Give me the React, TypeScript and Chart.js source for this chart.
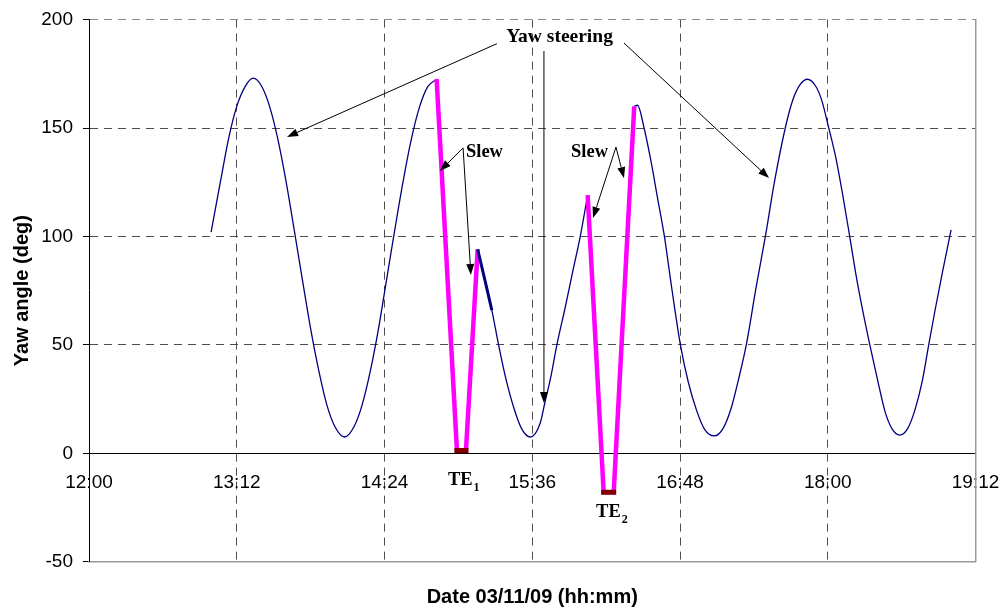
import React, { useEffect, useRef } from "react";
import { Chart, registerables } from "chart.js";

Chart.register(...registerables);

// ---------- data (time in minutes after 00:00, yaw in degrees) ----------
const timeTicks = [720, 792, 864, 936, 1008, 1080, 1152];
const yawTicks = [-50, 0, 50, 100, 150, 200];

// yaw steering before first slew
const steerATime = [779.5, 784, 788, 792, 796, 800, 804, 808, 812, 816, 820, 824, 828, 832, 836, 840, 844.5, 849, 853, 857, 861, 865, 869, 873, 877, 881, 885, 889.4];
const steerAYaw = [102, 125, 145, 160, 169, 173, 169.5, 160, 145, 125.5, 103, 80, 57.5, 38, 22, 12, 7.5, 12, 22, 37.5, 57, 80, 103, 125, 144.5, 159.5, 169, 172.5];

// yaw steering between the two slews
const steerBTime = [909.4, 913, 916.3, 919.6, 923, 927, 931, 935, 939.9, 942.3, 945, 948, 952, 956, 959.4, 963];
const steerBYaw = [94, 80, 66, 50, 35, 21, 11, 7.5, 14, 24, 35, 50, 67, 85, 100, 119];

// overlapping (thicker) part right after first slew
const steerThickTime = [909.4, 912.9, 916.3];
const steerThickYaw = [94, 80, 66];

// yaw steering after second slew
const steerCTime = [985.7, 987.3, 990.5, 994, 997, 1000.4, 1004, 1008.2, 1012, 1016, 1020, 1024.7, 1029, 1033, 1036.5, 1040.3, 1045, 1049.6, 1054, 1059.3, 1063, 1066.5, 1070.2, 1074, 1077, 1080.5, 1084, 1087.5, 1090.7, 1094, 1097, 1100.5, 1104, 1108, 1111.5, 1115.1, 1119, 1122.5, 1126, 1129.2, 1132.5, 1136, 1140.1];
const steerCYaw = [160, 160.5, 150, 134, 118, 100, 76, 50, 33, 20, 11, 8, 11.5, 21, 34, 50, 76, 100, 125, 150, 163, 170, 172.5, 169.5, 163, 150, 136, 118, 100, 81, 66, 50, 35, 19, 11, 8.4, 11.5, 20, 33, 50, 67, 84, 103];

// slews
const slew1Time = [889.4, 899.3, 903.7, 909.4];
const slew1Yaw = [172.5, 1.3, 1.3, 94];
const slew2Time = [963, 970.8, 975.7, 985.7];
const slew2Yaw = [119, -18, -18, 160];

// target events
const te1Time = [899.3, 903.7];
const te1Yaw = [1.3, 1.3];
const te2Time = [970.8, 975.7];
const te2Yaw = [-18, -18];

// annotations (data coordinates)
const steeringLabel = { text: "Yaw steering", t: 949.3, v: 189.7 };
const steeringArrows = [
  [918.8, 188.9, 816.5, 145.9],
  [941.7, 185.5, 941.7, 23.2],
  [980.7, 189.2, 1051.4, 126.9],
];
const slewLabels = [
  { text: "Slew", t: 903.7, v: 136.6 },
  { text: "Slew", t: 954.9, v: 136.6 },
];
const slewArrows = [
  [902.3, 140.8, 891.0, 130.2],
  [902.3, 140.8, 906.1, 82.2],
  [976.8, 141.2, 965.6, 108.5],
  [976.8, 141.2, 980.7, 126.9],
];
const teLabels = [
  { main: "TE", sub: "1", t: 894.9, v: -14.6 },
  { main: "TE", sub: "2", t: 967.1, v: -29.4 },
];

const SANS = '"Liberation Sans", Arial, sans-serif';
const SERIF = '"Liberation Serif", "Times New Roman", serif';

const pts = (ts: number[], vs: number[]) => ts.map((t, i) => ({ x: t, y: vs[i] }));
const fmt = (v: number) => {
  const h = Math.floor(v / 60);
  const m = Math.round(v - h * 60);
  return `${h}:${m < 10 ? "0" + m : m}`;
};

function drawArrow(ctx: CanvasRenderingContext2D, x1: number, y1: number, x2: number, y2: number) {
  const ang = Math.atan2(y2 - y1, x2 - x1);
  const len = 11;
  const hw = 4;
  const bx = x2 - len * Math.cos(ang);
  const by = y2 - len * Math.sin(ang);
  ctx.beginPath();
  ctx.moveTo(x1, y1);
  ctx.lineTo(bx, by);
  ctx.stroke();
  ctx.beginPath();
  ctx.moveTo(x2, y2);
  ctx.lineTo(bx + hw * Math.sin(ang), by - hw * Math.cos(ang));
  ctx.lineTo(bx - hw * Math.sin(ang), by + hw * Math.cos(ang));
  ctx.closePath();
  ctx.fill();
}

const annotationPlugin = {
  id: "annotations",
  afterDatasetsDraw(chart: any) {
    const { ctx, scales } = chart;
    const xs = scales.x;
    const ys = scales.y;
    const px = (t: number) => xs.getPixelForValue(t);
    const py = (v: number) => ys.getPixelForValue(v);
    ctx.save();
    ctx.strokeStyle = "#000";
    ctx.fillStyle = "#000";
    ctx.lineWidth = 1;
    [...steeringArrows, ...slewArrows].forEach((a) => drawArrow(ctx, px(a[0]), py(a[1]), px(a[2]), py(a[3])));
    ctx.textBaseline = "alphabetic";
    ctx.font = `bold 19.5px ${SERIF}`;
    ctx.textAlign = "center";
    ctx.fillText(steeringLabel.text, px(steeringLabel.t), py(steeringLabel.v));
    ctx.textAlign = "left";
    ctx.font = `bold 18.5px ${SERIF}`;
    slewLabels.forEach((l) => ctx.fillText(l.text, px(l.t), py(l.v)));
    teLabels.forEach((l) => {
      ctx.font = `bold 18.5px ${SERIF}`;
      const x0 = px(l.t);
      const y0 = py(l.v);
      ctx.fillText(l.main, x0, y0);
      const w = ctx.measureText(l.main).width;
      ctx.font = `bold 12px ${SERIF}`;
      ctx.fillText(l.sub, x0 + w + 1, y0 + 6);
    });
    ctx.restore();
  },
};

export default function App() {
  const ref = useRef<HTMLCanvasElement>(null);
  useEffect(() => {
    const transparent = "rgba(0,0,0,0)";
    const gridGray = "#4d4d4d";
    const chart = new Chart(ref.current as HTMLCanvasElement, {
      type: "line",
      data: {
        datasets: [
          { data: pts(te1Time, te1Yaw), borderColor: "#800000", borderWidth: 5, borderCapStyle: "square", pointRadius: 0, tension: 0, order: 0 },
          { data: pts(te2Time, te2Yaw), borderColor: "#800000", borderWidth: 5, borderCapStyle: "square", pointRadius: 0, tension: 0, order: 0 },
          { data: pts(steerThickTime, steerThickYaw), borderColor: "#000080", borderWidth: 3, pointRadius: 0, tension: 0, order: 1 },
          { data: pts(slew1Time, slew1Yaw), borderColor: "#FF00FF", borderWidth: 4.5, pointRadius: 0, tension: 0, order: 2 },
          { data: pts(slew2Time, slew2Yaw), borderColor: "#FF00FF", borderWidth: 4.5, pointRadius: 0, tension: 0, order: 2 },
          { data: pts(steerATime, steerAYaw), borderColor: "#000080", borderWidth: 1.3, pointRadius: 0, cubicInterpolationMode: "monotone", order: 3 },
          { data: pts(steerBTime, steerBYaw), borderColor: "#000080", borderWidth: 1.3, pointRadius: 0, cubicInterpolationMode: "monotone", order: 3 },
          { data: pts(steerCTime, steerCYaw), borderColor: "#000080", borderWidth: 1.3, pointRadius: 0, cubicInterpolationMode: "monotone", order: 3 },
        ] as any,
      },
      options: {
        responsive: false,
        animation: false,
        events: [],
        layout: { padding: { left: 0, top: 19.6, right: 30.5, bottom: 0 } },
        plugins: { legend: { display: false }, tooltip: { enabled: false }, title: { display: false } },
        scales: {
          x: {
            type: "linear",
            position: "bottom",
            min: 720,
            max: 1152,
            afterBuildTicks: (s: any) => {
              s.ticks = timeTicks.map((v) => ({ value: v }));
            },
            ticks: { display: false },
            grid: {
              drawTicks: false,
              lineWidth: 1,
              color: (c: any) => (c.tick && (c.tick.value === 720 || c.tick.value === 1152) ? transparent : gridGray),
            },
            border: { color: "#9a9a9a", width: 1.5, dash: [8, 6] },
            title: {
              display: true,
              text: "Date 03/11/09 (hh:mm)",
              color: "#000",
              font: { family: SANS, size: 20, weight: "bold", lineHeight: 1 },
              padding: { top: 0, bottom: 0.5 },
            },
            afterFit: (s: any) => {
              s.height = 46.3;
            },
          },
          x2: {
            type: "linear",
            position: { y: 0 },
            min: 720,
            max: 1152,
            afterBuildTicks: (s: any) => {
              s.ticks = timeTicks.map((v) => ({ value: v }));
            },
            ticks: {
              color: "#000",
              font: { family: SANS, size: 19 },
              padding: 0,
              maxRotation: 0,
              autoSkip: false,
              callback: (v: any) => fmt(Number(v)),
            },
            grid: { display: true, drawOnChartArea: false, drawTicks: true, tickLength: 18.5, tickColor: transparent },
            border: { color: "#000", width: 1 },
          },
          y: {
            type: "linear",
            position: "left",
            min: -50,
            max: 200,
            afterBuildTicks: (s: any) => {
              s.ticks = yawTicks.map((v) => ({ value: v }));
            },
            ticks: { color: "#000", font: { family: SANS, size: 19, lineHeight: 1 }, padding: 10 },
            grid: {
              lineWidth: 1,
              tickLength: 6,
              tickColor: "#000",
              color: (c: any) => {
                const v = c.tick ? c.tick.value : null;
                if (v === 0 || v === -50) return transparent;
                if (v === 200) return "#8a8a8a";
                return gridGray;
              },
            },
            border: { color: "#000", width: 1, dash: [8, 6] },
            title: {
              display: true,
              text: "Yaw angle (deg)",
              color: "#000",
              font: { family: SANS, size: 20, weight: "bold" },
              padding: { top: 10, bottom: 0 },
            },
            afterFit: (s: any) => {
              s.width = 89;
            },
          },
          y2: {
            type: "linear",
            position: "right",
            min: -50,
            max: 200,
            ticks: { display: false },
            grid: { display: false, drawTicks: false },
            border: { color: "#9a9a9a", width: 1.5 },
            afterFit: (s: any) => {
              s.width = 0;
            },
          },
        },
      } as any,
      plugins: [annotationPlugin],
    });
    return () => chart.destroy();
  }, []);
  return (
    <div style={{ position: "fixed", left: 0, top: 0, width: 1006, height: 608, background: "#fff" }}>
      <canvas ref={ref} width={1006} height={608} style={{ display: "block", width: 1006, height: 608 }} />
    </div>
  );
}
